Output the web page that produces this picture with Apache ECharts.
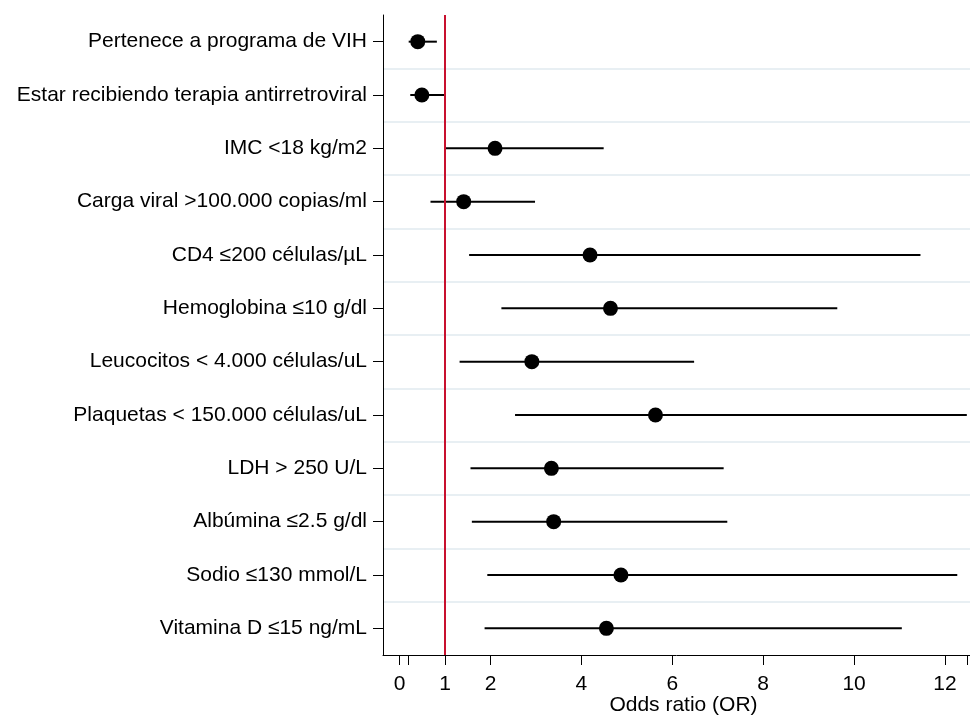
<!DOCTYPE html>
<html>
<head>
<meta charset="utf-8">
<script src="https://cdn.jsdelivr.net/npm/echarts@6/dist/echarts.min.js"></script>
<style>html,body{margin:0;padding:0;background:#fff}#c{width:970px;height:716px}</style>
</head>
<body>
<div id="c"></div>
<script>
const categories = [
  "Pertenece a programa de VIH",
  "Estar recibiendo terapia antirretroviral",
  "IMC <18 kg/m2",
  "Carga viral >100.000 copias/ml",
  "CD4 ≤200 células/µL",
  "Hemoglobina ≤10 g/dl",
  "Leucocitos < 4.000 células/uL",
  "Plaquetas < 150.000 células/uL",
  "LDH > 250 U/L",
  "Albúmina ≤2.5 g/dl",
  "Sodio ≤130 mmol/L",
  "Vitamina D ≤15 ng/mL"
];
const oddsRatio = [0.40, 0.49, 2.10, 1.41, 4.19, 4.64, 2.91, 5.63, 3.34, 3.39, 4.87, 4.55];
const ciLower   = [0.20, 0.235, 1.00, 0.68, 1.53, 2.24, 1.32, 2.54, 1.56, 1.59, 1.93, 1.87];
const ciUpper   = [0.82, 1.00, 4.49, 2.98, 11.46, 9.63, 6.48, 12.48, 7.13, 7.21, 12.27, 11.05];
const xTickLabels = [0, 1, 2, 4, 6, 8, 10, 12];
const referenceLine = 1;

const minLo = Math.min(...ciLower);
const maxHi = Math.max(...ciUpper);
const tickValues = [minLo, ...xTickLabels, maxHi].sort((a,b)=>a-b);

const font = '"Liberation Sans", Arial, sans-serif';
const chart = echarts.init(document.getElementById('c'));
chart.setOption({
  animation: false,
  grid: { left: 383, right: 0, top: 15, bottom: 61, containLabel: false, outerBoundsMode: 'none' },
  xAxis: {
    type: 'value', min: -0.365, max: 12.55,
    axisLine: { show: true, onZero: false, lineStyle: { color: '#000', width: 1 } },
    axisTick: { show: true, length: 10, customValues: tickValues, lineStyle: { color: '#000' } },
    axisLabel: { customValues: xTickLabels, color: '#000', fontSize: 21, fontFamily: font, margin: 19 },
    splitLine: { show: false },
    name: 'Odds ratio (OR)', nameLocation: 'middle', nameGap: 40, nameMoveOverlap: false,
    nameTextStyle: { color: '#000', fontSize: 21, fontFamily: font, padding: [0, 0, 0, 14] }
  },
  yAxis: {
    type: 'category', data: categories, inverse: true,
    axisLine: { show: true, onZero: false, lineStyle: { color: '#000', width: 1 } },
    axisTick: { show: true, alignWithLabel: true, length: 10, lineStyle: { color: '#000' } },
    axisLabel: { color: '#000', fontSize: 21, fontFamily: font, margin: 16 },
    splitLine: { show: true, showMinLine: false, showMaxLine: false, lineStyle: { color: '#e8eff3', width: 2 } }
  },
  series: [
    {
      type: 'custom',
      data: categories.map((c, i) => [ciLower[i], ciUpper[i], i]),
      encode: { x: [0, 1], y: 2 },
      renderItem: function (params, api) {
        const p1 = api.coord([api.value(0), api.value(2)]);
        const p2 = api.coord([api.value(1), api.value(2)]);
        return { type: 'line', shape: { x1: p1[0], y1: p1[1], x2: p2[0], y2: p2[1] },
                 style: { stroke: '#000', lineWidth: 2 } };
      },
      z: 2
    },
    {
      type: 'scatter',
      data: categories.map((c, i) => [oddsRatio[i], i]),
      symbol: 'circle', symbolSize: 15,
      itemStyle: { color: '#000', opacity: 1 },
      z: 4,
      markLine: {
        silent: true, symbol: 'none', label: { show: false },
        lineStyle: { color: '#c8102e', width: 2, type: 'solid' },
        data: [{ xAxis: referenceLine }]
      }
    }
  ]
});
</script>
</body>
</html>
